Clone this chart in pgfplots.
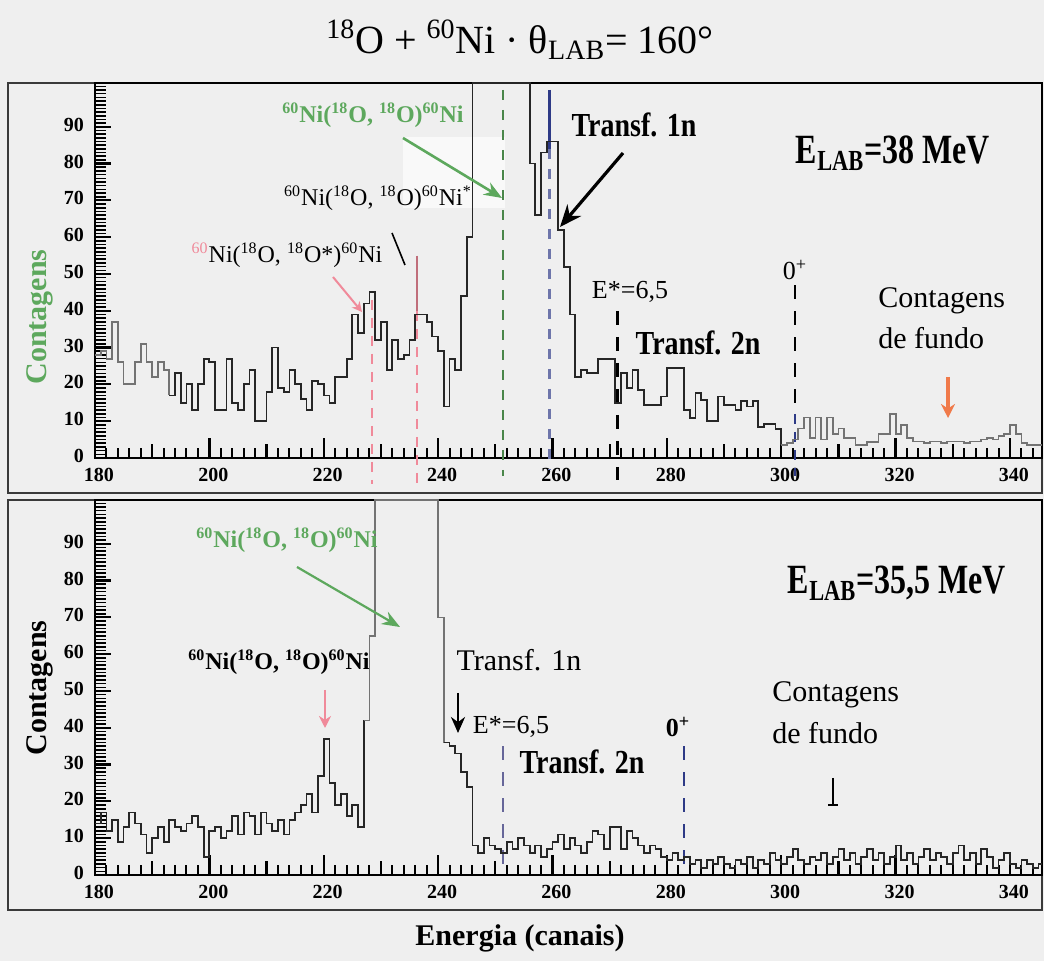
\documentclass[border=0pt]{standalone}
\usepackage{pgfplots}
\pgfplotsset{compat=1.18}
\usepackage{fontspec}
\setmainfont{Liberation Serif}
\usetikzlibrary{arrows.meta}
\definecolor{bg}{HTML}{EFEFEF}
\definecolor{grn}{HTML}{5DA85D}
\definecolor{pnk}{HTML}{F08A9A}
\definecolor{navy}{HTML}{2E3A86}
\definecolor{orng}{HTML}{F07A4A}
\definecolor{frm}{HTML}{3A3A3A}

\pgfplotstableread{
x y
180 28
181 29
182 27
183 37
184 26
185 20
186 20
187 26
188 31
189 26
190 22
191 26
192 24
193 17
}\topA
\pgfplotstableread{
x y
193 17
194 23
195 15
196 20
197 13
198 20
199 27
200 26
201 13
202 13
203 27
204 15
205 13
206 20
207 24
208 10
209 10
210 18
211 30
212 19
213 18
214 24
215 20
216 16
217 13
218 21
219 20
220 17
221 15
222 22
223 22
224 27
225 39
226 34
227 42
228 45
229 32
230 37
231 24
232 32
233 27
234 28
235 32
236 39
237 39
238 37
239 33
240 29
241 14
242 27
243 24
244 44
245 60
246 101.9
247 101.9
248 101.9
249 101.9
250 101.9
251 101.9
252 101.9
253 101.9
254 101.9
255 101.9
256 80
257 66
258 83
259 86
260 86
261 62
262 52
263 39
264 22
265 24
266 23
267 23
268 27
269 27
270 27
271 15
272 23
273 19
274 24
275 18.5
276 14.4
277 14.4
278 14.4
279 16.7
280 24.4
281 24.4
282 24.4
283 13
284 10.8
285 17.6
286 15.7
287 10
288 10
289 16.7
290 14.4
291 14.4
292 13
293 15.4
294 14
295 15.4
296 8.4
297 9.3
298 9.3
299 7.9
300 3.5
}\topB
\pgfplotstableread{
x y
300 3.5
301 4
302 5
303 8
304 11
305 5.5
306 11
307 5
308 11
309 6.5
310 8
311 5.4
312 5.4
313 3.6
314 3.6
315 4.3
316 4.3
317 6.5
318 6.5
319 12
320 6.5
321 9
322 5.4
323 4.5
324 4.5
325 4
326 4.5
327 4.5
328 4
329 4.5
330 4.5
331 4.5
332 4
333 4.5
334 4.5
335 5
336 5.4
337 5
338 6
339 6.5
340 9
341 6.5
342 4
343 3.6
344 3.6
345 3.6
345.6 3.6
}\topC
\pgfplotstableread{
x y
180 14
181 17
182 12
183 15
184 9
185 13
186 17
187 14
188 11
189 6
190 10
191 13
192 9
193 15
194 13
195 12
196 14
197 16
198 13
199 5
200 12
201 13
202 10
203 12
204 16
205 11
206 17
207 16
208 11
209 17
210 14
211 12
212 15
213 11
214 15
215 17
216 19
217 22
218 17
219 27
220 37
221 25
222 19
223 22
224 16
225 19
226 13
227 42
}\botA
\pgfplotstableread{
x y
227 42
228 65
229 101.9
230 101.9
231 101.9
232 101.9
233 101.9
234 101.9
235 101.9
236 101.9
237 101.9
238 101.9
239 101.9
240 70
241 36
}\botB
\pgfplotstableread{
x y
241 36
242 35
243 33
244 28
245 24
246 8
247 6
248 10
249 8
250 7
251 6
252 9
253 7
254 10
255 8
256 6
257 8
258 5
259 7
260 9
261 11
262 7
263 10
264 8
265 6
266 9
267 12
268 11
269 7
270 13
271 13
272 7
273 12
274 10
275 8
276 6
277 8
278 7
279 5
280 4
281 6
282 4
283 5
284 3
285 4
286 2
287 4
288 3
289 5
290 3
291 2
292 4
293 3
294 5
295 2
296 4
297 3
298 6
299 4
300 3
301 5
302 7
303 4
304 3
305 5
306 4
307 6
308 3
309 5
310 7
311 4
312 6
313 3
314 5
315 7
316 4
317 6
318 3
319 5
320 8
321 4
322 6
323 3
324 5
325 7
326 4
327 6
328 5
329 3
330 6
331 8
332 4
333 6
334 3
335 7
336 5
337 2
338 4
339 6
340 3
341 2
342 4
343 3
344 2
345 3
345.6 3
}\botC

\pgfplotsset{
 panel/.style={
  width=473.5pt, height=187.5pt, scale only axis,
  xmin=180, xmax=345.6, ymin=0, ymax=101.9,
  axis line style={black, line width=1pt},
  xtick={180,200,...,340},
  ytick={0,10,...,90},
  xtick pos=bottom, ytick pos=left,
  tick align=inside,
  major tick length=0pt, minor tick length=0pt,
  tick label style={font=\fontsize{10}{12}\selectfont\bfseries},
  xticklabel style={yshift=-1.5pt, xshift=2pt},
  yticklabel style={xshift=-2pt, yshift=1pt},
  /pgf/number format/assume math mode=true,
  clip=false,
 },
 hist/.style={const plot mark left, line width=0.9pt, mark=none},
}
\newcommand{\myticks}{%
 \pgfplotsinvokeforeach{0,...,101}{\draw[black, line width=0.8pt] (axis cs:180,##1) -- ++(5.5pt,0pt);}%
 \pgfplotsinvokeforeach{0,10,...,90}{\draw[black, line width=1.1pt] (axis cs:180,##1) -- ++(8pt,0pt);}%
 \pgfplotsinvokeforeach{182,184,...,344}{\draw[black, line width=1pt] (axis cs:##1,0) -- (axis cs:##1,2.8);}%
 \pgfplotsinvokeforeach{190,210,...,330}{\draw[black, line width=1.1pt] (axis cs:##1,0) -- (axis cs:##1,3.8);}%
 \pgfplotsinvokeforeach{180,200,...,340}{\draw[black, line width=1.2pt] (axis cs:##1,0) -- (axis cs:##1,5.5);}%
}

\begin{document}
\begin{tikzpicture}
\path[use as bounding box, fill=bg] (0,0) rectangle (522pt,-480.5pt);
\begin{scope}[x=0.5pt,y=-0.5pt]
 \draw[frm, line width=1.2pt] (8,83) rectangle (1042,493);
 \draw[frm, line width=1.2pt] (8,500) rectangle (1042,910);
 \fill[white!60!bg] (403,137) rectangle (505,208);
\end{scope}

% ---------------- top panel
\begin{axis}[panel, at={(47.5pt,-229pt)}, anchor=south west]
 \myticks
 \draw[pnk, line width=1pt, dash pattern=on 5pt off 4pt] (axis cs:228.4,43) -- (axis cs:228.4,-7);
 \draw[pnk, line width=1pt, dash pattern=on 5pt off 4pt] (axis cs:236.3,40) -- (axis cs:236.3,-7);
 \draw[pnk!80!black, line width=1.4pt] (axis cs:236.3,55) -- (axis cs:236.3,40);
 \draw[grn!80!black, line width=1pt, dash pattern=on 5pt off 5pt] (axis cs:251.3,100) -- (axis cs:251.3,-5);
 \draw[navy, line width=1.6pt] (axis cs:259.5,100) -- (axis cs:259.5,84);
 \draw[navy!70, line width=1.2pt, dash pattern=on 5pt off 5pt] (axis cs:259.5,84) -- (axis cs:259.5,-3);
 \draw[black, line width=1.2pt, dash pattern=on 7pt off 6pt] (axis cs:271.4,40) -- (axis cs:271.4,-6);
 \draw[black, line width=1.2pt, dash pattern=on 7pt off 6pt] (axis cs:302.4,47) -- (axis cs:302.4,12);
 \draw[navy, line width=1.2pt, dash pattern=on 5pt off 4pt] (axis cs:302.4,12) -- (axis cs:302.4,-5);
 \addplot[hist, black!55] table[x=x,y=y] {\topA};
 \addplot[hist, black!85] table[x=x,y=y] {\topB};
 \addplot[hist, black!55] table[x=x,y=y] {\topC};
\end{axis}

% ---------------- bottom panel
\begin{axis}[panel, at={(47.5pt,-437.5pt)}, anchor=south west]
 \myticks
 \draw[gray!80!blue, line width=1pt, dash pattern=on 7pt off 6pt] (axis cs:251.4,35) -- (axis cs:251.4,2);
 \draw[navy, line width=1.2pt, dash pattern=on 7pt off 6pt] (axis cs:283,35) -- (axis cs:283,0);
 \addplot[hist, black!85] table[x=x,y=y] {\botA};
 \addplot[hist, black!55, line width=0.8pt] table[x=x,y=y] {\botB};
 \addplot[hist, black!85] table[x=x,y=y] {\botC};
\end{axis}

\begin{scope}[x=0.5pt,y=-0.5pt]
 % title and axis labels
 \node[font=\fontsize{20}{24}\selectfont] at (520,40)
   {\textsuperscript{18}O + \textsuperscript{60}Ni · θ\textsubscript{LAB}= 160°};
 \node[font=\fontsize{15}{18}\selectfont\bfseries] at (520,938) {Energia (canais)};
 \node[font=\fontsize{15}{18}\selectfont\bfseries, text=grn, rotate=90] at (40,317) {Contagens};
 \node[font=\fontsize{15}{18}\selectfont\bfseries, rotate=90] at (40,688) {Contagens};

 % top panel annotations
 \node[font=\fontsize{12}{14}\selectfont\bfseries, text=grn] at (373,115)
   {\textsuperscript{60}Ni(\textsuperscript{18}O, \textsuperscript{18}O)\textsuperscript{60}Ni};
 \draw[grn, line width=1.3pt, -{Stealth[length=9pt,width=7pt]}] (403,138) -- (502,198);
 \node[font=\fontsize{12}{14}\selectfont] at (378,198)
   {\textsuperscript{60}Ni(\textsuperscript{18}O, \textsuperscript{18}O)\textsuperscript{60}Ni\textsuperscript{*}};
 \node[font=\fontsize{12}{14}\selectfont] at (287,255)
   {\textcolor{pnk}{\textsuperscript{60}}Ni(\textsuperscript{18}O, \textsuperscript{18}O*)\textsuperscript{60}Ni};
 \draw[black, line width=0.8pt] (392,233) -- (405,265);
 \draw[pnk, line width=1pt, -{Stealth[length=5pt,width=5pt]}] (333,277) -- (362,312);
 \node[font=\fontsize{14}{17}\selectfont\bfseries, yscale=1.2] at (634,125) {Transf. 1n};
 \draw[black, line width=1.6pt, -{Stealth[length=11pt,width=9pt]}] (623,153) -- (560,227);
 \node[font=\fontsize{16}{19}\selectfont\bfseries, yscale=1.3] at (893,153) {E\textsubscript{LAB}=38 MeV};
 \node[font=\fontsize{13}{15}\selectfont] at (630,292) {E*=6,5};
 \node[font=\fontsize{14}{17}\selectfont\bfseries, yscale=1.2] at (698,343) {Transf. 2n};
 \node[font=\fontsize{13}{15}\selectfont] at (795,270) {0\textsuperscript{+}};
 \node[font=\fontsize{15}{18}\selectfont, anchor=west, inner sep=0pt] at (878,301) {Contagens};
 \node[font=\fontsize{15}{18}\selectfont, anchor=west, inner sep=0pt] at (878,338) {de fundo};
 \draw[orng, line width=1.6pt, -{Stealth[length=7pt,width=7pt]}] (948,377) -- (948,418);

 % bottom panel annotations
 \node[font=\fontsize{12}{14}\selectfont\bfseries, text=grn] at (287,540)
   {\textsuperscript{60}Ni(\textsuperscript{18}O, \textsuperscript{18}O)\textsuperscript{60}Ni};
 \draw[grn, line width=1.1pt, -{Stealth[length=9pt,width=7pt]}] (297,567) -- (400,627);
 \node[font=\fontsize{12}{14}\selectfont\bfseries] at (279,662)
   {\textsuperscript{60}Ni(\textsuperscript{18}O, \textsuperscript{18}O)\textsuperscript{60}Ni};
 \draw[pnk, line width=1.2pt, -{Stealth[length=6pt,width=6pt]}] (325,690) -- (325,728);
 \node[font=\fontsize{16}{19}\selectfont\bfseries, yscale=1.3] at (897,583) {E\textsubscript{LAB}=35,5 MeV};
 \node[font=\fontsize{15}{18}\selectfont] at (519,660) {Transf. 1n};
 \draw[black, line width=1.4pt, -{Stealth[length=8pt,width=7pt]}] (458,693) -- (458,733);
 \node[font=\fontsize{13}{15}\selectfont] at (511,727) {E*=6,5};
 \node[font=\fontsize{13}{15}\selectfont\bfseries] at (678,727) {0\textsuperscript{+}};
 \node[font=\fontsize{14}{17}\selectfont\bfseries, yscale=1.2] at (582,762) {Transf. 2n};
 \node[font=\fontsize{15}{18}\selectfont, anchor=west, inner sep=0pt] at (772,695) {Contagens};
 \node[font=\fontsize{15}{18}\selectfont, anchor=west, inner sep=0pt] at (772,733) {de fundo};
 \draw[black, line width=1pt] (833,778) -- (833,805) (828,805) -- (838,805);
\end{scope}
\end{tikzpicture}
\end{document}
